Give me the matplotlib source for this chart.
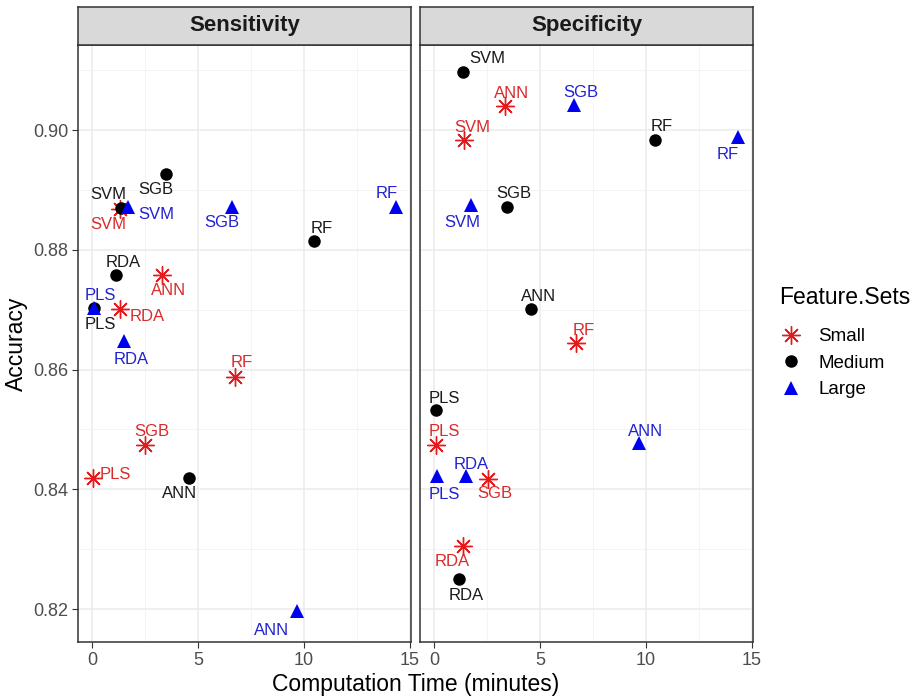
import matplotlib
matplotlib.use('Agg')
import matplotlib.pyplot as plt
from matplotlib.lines import Line2D

plt.rcParams['font.family'] = ['Liberation Sans', 'DejaVu Sans']

#-----------------------Data--------------------------
panels = ['Sensitivity', 'Specificity']
feature_sets = ['Small', 'Medium', 'Large']
models = ['PLS', 'RDA', 'SVM', 'ANN', 'SGB', 'RF']

# computation time (minutes) per model, for each feature set
time_sens = {
    'Small':  [0.03, 1.32, 1.30, 3.29, 2.50, 6.75],
    'Medium': [0.10, 1.15, 1.35, 4.58, 3.48, 10.46],
    'Large':  [0.11, 1.49, 1.71, 9.67, 6.62, 14.34],
}
acc_sens = {
    'Small':  [0.8419, 0.8701, 0.8868, 0.8758, 0.8474, 0.8588],
    'Medium': [0.8702, 0.8758, 0.8869, 0.8419, 0.8927, 0.8815],
    'Large':  [0.8703, 0.8647, 0.8872, 0.8196, 0.8872, 0.8872],
}
time_spec = {
    'Small':  [0.09, 1.35, 1.42, 3.35, 2.57, 6.70],
    'Medium': [0.09, 1.19, 1.38, 4.59, 3.46, 10.42],
    'Large':  [0.14, 1.53, 1.74, 9.67, 6.59, 14.33],
}
acc_spec = {
    'Small':  [0.8474, 0.8306, 0.8983, 0.9040, 0.8418, 0.8644],
    'Medium': [0.8532, 0.8250, 0.9097, 0.8701, 0.8871, 0.8984],
    'Large':  [0.8422, 0.8422, 0.8875, 0.8478, 0.9042, 0.8988],
}

# label nudges in pixels (dx, dy), order follows models
nudge_sens = {
    'Small':  [(23, 3), (27, -7), (-11, -15), (7, -16), (7, 13), (7, 14)],
    'Medium': [(6, -16), (7, 12), (-12, 14), (-10, -16), (-10, -16), (8, 12)],
    'Large':  [(6, 12), (8, -18), (28, -8), (-25, -19), (-10, -16), (-9, 13)],
}
nudge_spec = {
    'Small':  [(8, 13), (-10, -16), (8, 13), (7, 13), (6, -15), (8, 13)],
    'Medium': [(8, 12), (7, -16), (24, 13), (7, 13), (7, 14), (7, 13)],
    'Large':  [(7, -18), (5, 12), (-9, -18), (7, 11), (7, 12), (-10, -17)],
}
#-----------------------------------------------------

marker_col = {'Small': '#E41A1C', 'Medium': 'black', 'Large': '#0000F0'}
text_col = {'Small': '#D92B2B', 'Medium': '#1A1A1A', 'Large': '#2222D0'}
marker_style = {
    'Small':  dict(marker=(8, 2, 0), ms=13, mew=1.0, mfc='none'),
    'Medium': dict(marker='o', ms=9, mew=0),
    'Large':  dict(marker='^', ms=10.5, mew=0),
}

W, H = 922, 699
fig = plt.figure(figsize=(W / 100, H / 100), dpi=100)

px_left = [78, 420]
px_w = 333
ax_top, ax_bot = 45, 642
strip_top = 7

grey30 = '#4D4D4D'
datasets = [(time_sens, acc_sens, nudge_sens), (time_spec, acc_spec, nudge_spec)]

for i, name in enumerate(panels):
    ax = fig.add_axes([px_left[i] / W, (H - ax_bot) / H, px_w / W, (ax_bot - ax_top) / H])
    tx, ac, nd = datasets[i]
    for fs in feature_sets:
        ax.plot(tx[fs], ac[fs], ls='none', color=marker_col[fs], zorder=3,
                **marker_style[fs])
    for fs in ['Large', 'Small', 'Medium']:
        for m, x, y, (dx, dy) in zip(models, tx[fs], ac[fs], nd[fs]):
            ax.annotate(m, (x, y), xytext=(dx, dy), textcoords='offset pixels',
                        ha='center', va='center', fontsize=12,
                        color=text_col[fs], zorder=4)

    ax.set_xlim(-0.66, 15.05)
    ax.set_ylim(0.8145, 0.9142)
    ax.set_xticks([0, 5, 10, 15])
    ax.set_xticks([2.5, 7.5, 12.5], minor=True)
    ax.set_yticks([0.82, 0.84, 0.86, 0.88, 0.90])
    ax.set_yticks([0.83, 0.85, 0.87, 0.89, 0.91], minor=True)
    ax.grid(which='major', color='#EBEBEB', lw=1.1)
    ax.grid(which='minor', color='#F2F2F2', lw=0.6)
    ax.set_axisbelow(True)
    ax.tick_params(which='major', length=4, color='#333333', labelsize=13,
                   labelcolor=grey30, pad=3)
    ax.tick_params(which='minor', length=0)
    if i == 0:
        ax.set_yticklabels(['0.82', '0.84', '0.86', '0.88', '0.90'])
    else:
        ax.tick_params(axis='y', which='both', left=False, labelleft=False)
    for s in ax.spines.values():
        s.set_color('#333333')
        s.set_linewidth(1.1)

    # facet strip
    sax = fig.add_axes([px_left[i] / W, (H - ax_top) / H, px_w / W, (ax_top - strip_top) / H])
    sax.set_facecolor('#D9D9D9')
    sax.set_xticks([])
    sax.set_yticks([])
    for s in sax.spines.values():
        s.set_color('#333333')
        s.set_linewidth(1.1)
    sax.text(0.5, 0.5, name, transform=sax.transAxes, ha='center', va='center',
             fontsize=16, fontweight='bold', color='#1A1A1A')

fig.text(415.5 / W, 1 - 685 / H, 'Computation Time (minutes)', ha='center', va='center',
         fontsize=16.5, color='black')
fig.text(16 / W, 1 - 343.5 / H, 'Accuracy', ha='center', va='center', rotation=90,
         fontsize=16.5, color='black')

# legend
fig.text(779 / W, 1 - 298 / H, 'Feature.Sets', ha='left', va='center',
         fontsize=16.5, color='black')
handles = [Line2D([], [], ls='none', color=marker_col[fs], **marker_style[fs])
           for fs in feature_sets]
leg = fig.legend(handles, feature_sets, loc='upper left',
                 bbox_to_anchor=(781 / W, 1 - 328 / H), frameon=False,
                 fontsize=13.5, handlelength=1.1, handletextpad=0.9,
                 labelspacing=0.5, borderaxespad=0, borderpad=0)

fig.savefig('out.png', dpi=100)
